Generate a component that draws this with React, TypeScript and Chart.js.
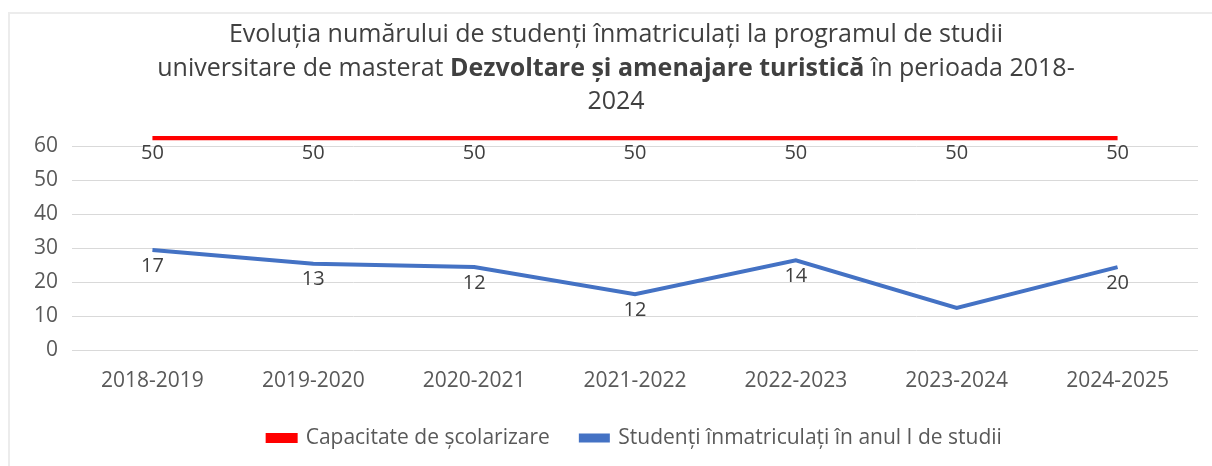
import React, { useEffect, useRef } from "react";
import { Chart, registerables } from "chart.js";

Chart.register(...registerables);

const categories = ["2018-2019", "2019-2020", "2020-2021", "2021-2022", "2022-2023", "2023-2024", "2024-2025"];
// plotted positions as drawn in the reference
const capacityValues = [62.5, 62.5, 62.5, 62.5, 62.5, 62.5, 62.5];
const enrolledValues = [29.5, 25.5, 24.5, 16.5, 26.5, 12.5, 24.5];
// data labels as printed in the reference
const capacityLabels = ["50", "50", "50", "50", "50", "50", "50"];
const enrolledLabels = ["17", "13", "12", "12", "14", "", "20"];
const yTicks = [0, 10, 20, 30, 40, 50, 60];

const FONT = "'Open Sans', 'Noto Sans', sans-serif";

const labelPlugin = {
  id: "pointLabels",
  afterDatasetsDraw(chart: any) {
    const ctx = chart.ctx;
    const sets = [capacityLabels, enrolledLabels];
    ctx.save();
    ctx.font = `20px ${FONT}`;
    ctx.fillStyle = "#404040";
    ctx.textAlign = "center";
    ctx.textBaseline = "middle";
    sets.forEach((labels, di) => {
      const meta = chart.getDatasetMeta(di);
      meta.data.forEach((pt: any, i: number) => {
        const t = labels[i];
        if (!t) return;
        ctx.fillText(t, pt.x, pt.y + 16);
      });
    });
    ctx.restore();
  },
};

export default function App() {
  const ref = useRef<HTMLCanvasElement | null>(null);
  useEffect(() => {
    document.body.style.margin = "0";
    const canvas = ref.current;
    if (!canvas) return;
    const chart = new Chart(canvas, {
      type: "line",
      data: {
        labels: categories,
        datasets: [
          {
            label: "Capacitate de școlarizare",
            data: capacityValues,
            borderColor: "#FF0000",
            backgroundColor: "#FF0000",
            borderWidth: 5,
            pointRadius: 0,
            tension: 0,
          },
          {
            label: "Studenți înmatriculați în anul I de studii",
            data: enrolledValues,
            borderColor: "#4472C4",
            backgroundColor: "#4472C4",
            borderWidth: 4,
            pointRadius: 0,
            tension: 0,
          },
        ],
      },
      options: {
        animation: false,
        responsive: false,
        maintainAspectRatio: false,
        layout: { padding: { top: 136, left: 0, right: 14, bottom: 7.5 } },
        scales: {
          x: {
            offset: true,
            grid: { display: false, drawTicks: false },
            border: { display: false },
            ticks: { color: "#595959", font: { family: FONT, size: 21 }, padding: 18, maxRotation: 0 },
            afterFit(scale: any) {
              scale.height = 46;
            },
          },
          y: {
            min: 0,
            max: 63,
            grid: { color: "#d9d9d9", lineWidth: 1, drawTicks: false },
            border: { display: false },
            ticks: { color: "#595959", font: { family: FONT, size: 21 }, padding: 14, stepSize: 10 },
            afterBuildTicks(scale: any) {
              scale.ticks = yTicks.map((v) => ({ value: v }));
            },
            afterFit(scale: any) {
              scale.width = 72;
            },
          },
        },
        plugins: {
          title: { display: false },
          tooltip: { enabled: false },
          legend: {
            position: "bottom",
            fullSize: false,
            labels: {
              boxWidth: 27,
              boxHeight: 5,
              padding: 31,
              color: "#595959",
              font: { family: FONT, size: 21 },
            },
          },
        },
      },
      plugins: [labelPlugin],
    });
    return () => chart.destroy();
  }, []);

  return (
    <div style={{ position: "relative", width: 1212, height: 466, background: "#fff", overflow: "hidden" }}>
      <div style={{ position: "absolute", left: 8, top: 12, right: 0, bottom: 0, borderTop: "2px solid #ececec", borderLeft: "2px solid #ececec" }} />
      <canvas ref={ref} width={1212} height={466} style={{ position: "absolute", left: 0, top: 0 }} />
      <div
        style={{
          position: "absolute",
          left: 616,
          top: 16,
          transform: "translateX(-50%)",
          whiteSpace: "nowrap",
          textAlign: "center",
          fontFamily: FONT,
          fontSize: 25,
          lineHeight: "33.5px",
          color: "#404040",
        }}
      >
        Evoluția numărului de studenți înmatriculați la programul de studii
        <br />
        universitare de masterat <b>Dezvoltare și amenajare turistică</b> în perioada 2018-
        <br />
        2024
      </div>
    </div>
  );
}
